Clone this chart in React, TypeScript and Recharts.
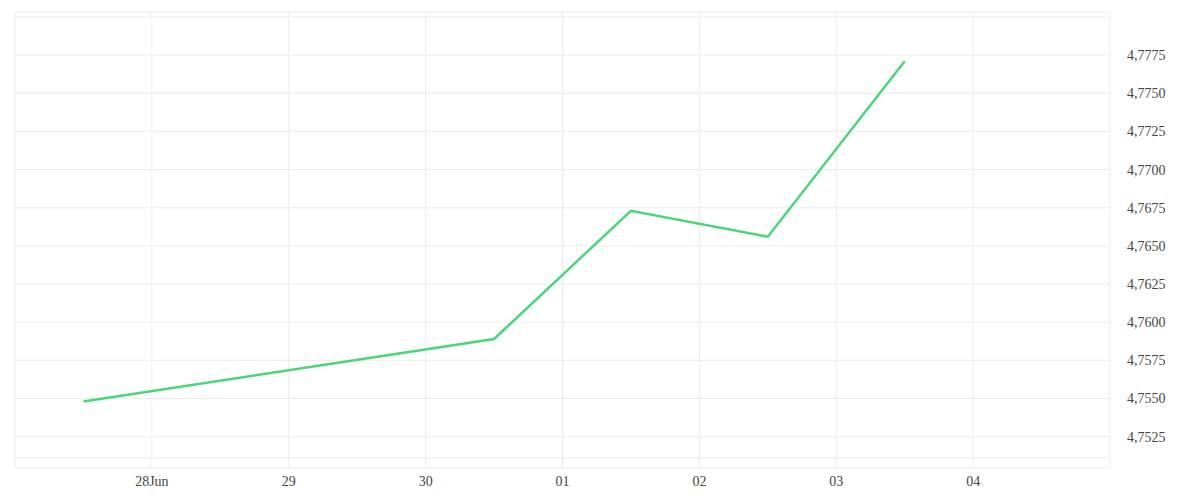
import { LineChart, Line, XAxis, YAxis, CartesianGrid } from "recharts";

// days counted from 27 Jun (0 = 27 Jun 00:00)
const pointDays = [0.5, 3.5, 4.5, 5.5, 6.5];
const rates = [4.7548, 4.7589, 4.7673, 4.7656, 4.7771];

const xTicks = [0, 1, 2, 3, 4, 5, 6, 7, 8];
const xTickLabels = ["", "28Jun", "29", "30", "01", "02", "03", "04", ""];

const yTicks = [
  4.7511, 4.7525, 4.755, 4.7575, 4.76, 4.7625, 4.765, 4.7675, 4.77, 4.7725,
  4.775, 4.7775, 4.78,
];
const yDomain = [4.7511, 4.78];

const data = pointDays.map((d, i) => ({ day: d, rate: rates[i] }));

const tickStyle = { fill: "#444", fontSize: 14, fontFamily: "Liberation Serif" };

export default function App() {
  return (
    <div style={{ width: 1184, height: 484 }}>
      <LineChart
        width={1184}
        height={484}
        data={data}
        margin={{ top: 4, right: 0, left: 7, bottom: 0 }}
      >
        <CartesianGrid stroke="#ececec" strokeWidth={1} />
        <XAxis
          dataKey="day"
          type="number"
          domain={[0, 8]}
          ticks={xTicks}
          interval={0}
          tickFormatter={(v: number) => xTickLabels[xTicks.indexOf(v)] ?? ""}
          axisLine={false}
          tickLine={false}
          tick={tickStyle}
          tickMargin={2}
          height={24}
        />
        <YAxis
          orientation="right"
          type="number"
          domain={yDomain}
          ticks={yTicks}
          interval={0}
          padding={{ top: 5, bottom: 10 }}
          tickFormatter={(v: number) =>
            v < 4.752 || v > 4.779 ? "" : v.toFixed(4).replace(".", ",")
          }
          axisLine={false}
          tickLine={false}
          tick={{ ...tickStyle, textAnchor: "start" }}
          tickMargin={11}
          width={82}
        />
        <Line
          type="linear"
          dataKey="rate"
          stroke="#4cd47a"
          strokeWidth={2.5}
          dot={false}
          isAnimationActive={false}
        />
      </LineChart>
    </div>
  );
}
